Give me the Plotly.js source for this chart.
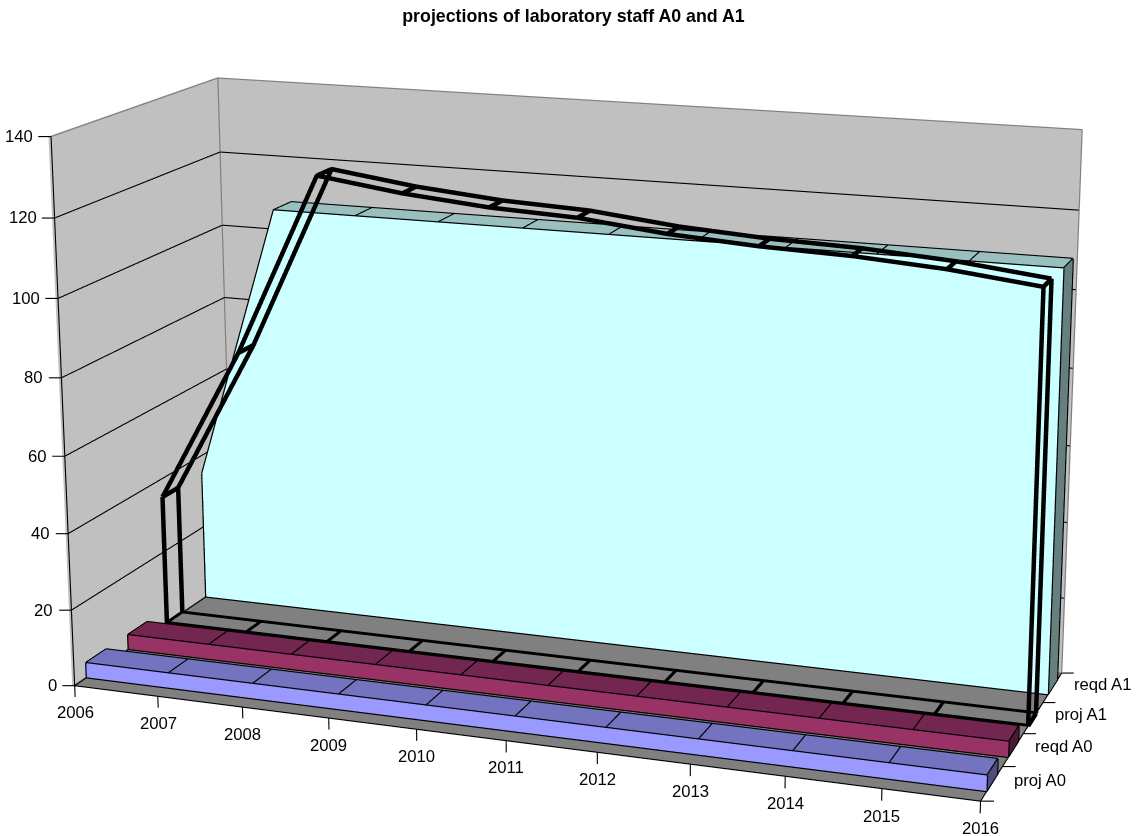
<!DOCTYPE html>
<html><head><meta charset="utf-8">
<script src="https://cdn.plot.ly/plotly-3.0.1.min.js"></script>
<style>
html,body{margin:0;padding:0;background:#fff;overflow:hidden;width:1138px;height:836px}
#frame{position:relative;width:1138px;height:836px;overflow:hidden}
#chart{position:absolute;left:0;top:-975px;width:1200px;height:2709px}
</style></head>
<body><div id="frame"><div id="chart"></div></div>
<script>
// Staff projections per year and series
var years = [2006,2007,2008,2009,2010,2011,2012,2013,2014,2015,2016];
var seriesNames = ['proj A0','reqd A0','proj A1','reqd A1'];
var projA0 = [4,4,4,4,4,4,4,4,4,4,4];
var reqdA0 = [4,4,4,4,4,4,4,4,4,4,4];
var projA1 = [35,76,124,121,119,118,115.6,114.2,113.5,112,109.5];
var reqdA1 = [35,109,109,109,109,109,109,109,109,109,109];
var valueTicks = [0,20,40,60,80,100,120,140];

var FONT = 'Arial, "Liberation Sans", sans-serif';
var x0 = years[0], x1 = years[years.length-1];
var zTop = valueTicks[valueTicks.length-1];
var depth = seriesNames.length;

function LineSet(color,width){
  this.t = {type:'scatter3d',mode:'lines',x:[],y:[],z:[],line:{color:color,width:width},
            hoverinfo:'skip',showlegend:false};
}
LineSet.prototype.add = function(pts){
  var t = this.t;
  pts.forEach(function(p){t.x.push(p[0]);t.y.push(p[1]);t.z.push(p[2]);});
  t.x.push(null);t.y.push(null);t.z.push(null);
};

function Solid(){
  this.t = {type:'mesh3d',x:[],y:[],z:[],i:[],j:[],k:[],facecolor:[],flatshading:true,
            lighting:{ambient:1,diffuse:0,specular:0,roughness:1,fresnel:0},
            hoverinfo:'skip',showscale:false};
}
Solid.prototype.quad = function(a,b,c,d,color){
  var t = this.t, n = t.x.length;
  [a,b,c,d].forEach(function(p){t.x.push(p[0]);t.y.push(p[1]);t.z.push(p[2]);});
  t.i.push(n,n);t.j.push(n+1,n+2);t.k.push(n+2,n+3);
  t.facecolor.push(color,color);
};

var traces = [];

// Walls and floor sit a hair behind the lines drawn on them
var walls = new Solid();
var e = 0.03, ez = 0.15;
walls.quad([x0-e,0,-ez],[x1,0,-ez],[x1,depth+e,-ez],[x0-e,depth+e,-ez],'#808080');
walls.quad([x0-e,depth+e,-ez],[x1,depth+e,-ez],[x1,depth+e,zTop],[x0-e,depth+e,zTop],'#c0c0c0');
walls.quad([x0-e,0,-ez],[x0-e,depth+e,-ez],[x0-e,depth+e,zTop],[x0-e,0,zTop],'#c0c0c0');
traces.push(walls.t);

// Filled ribbons
var thin = new LineSet('#000000',2.4);
function ribbon(values,slot,inset,front,top,side){
  var s = new Solid(), yf = slot+inset, yb = slot+0.75, last = values.length-1;
  for(var n=0;n<last;n++){
    s.quad([years[n],yf,0],[years[n+1],yf,0],[years[n+1],yf,values[n+1]],[years[n],yf,values[n]],front);
    s.quad([years[n],yf,values[n]],[years[n+1],yf,values[n+1]],[years[n+1],yb,values[n+1]],[years[n],yb,values[n]],top);
  }
  s.quad([x1,yf,0],[x1,yb,0],[x1,yb,values[last]],[x1,yf,values[last]],side);
  s.quad([x0,yf,0],[x0,yb,0],[x0,yb,values[0]],[x0,yf,values[0]],side);
  traces.push(s.t);
  var off = 0.012, zo = 0.12, ft=[], bt=[];
  values.forEach(function(v,n){
    ft.push([years[n],yf-off,v+zo]);
    bt.push([years[n],yb,v+zo]);
    thin.add([[years[n],yf-off,v+zo],[years[n],yb,v+zo]]);
  });
  thin.add(ft);thin.add(bt);
  thin.add([[x0,yf-off,0],[x1,yf-off,0]]);
  thin.add([[x0,yf-off,0],[x0,yf-off,values[0]]]);
  thin.add([[x1+0.005,yf-off,0],[x1+0.005,yf-off,values[last]]]);
  thin.add([[x1+0.005,yb,0],[x1+0.005,yb,values[last]]]);
  thin.add([[x1+0.005,yf,zo],[x1+0.005,yb,zo]]);
}
ribbon(projA0,0,0.28,'#9999ff','#7373bf','#4d4d80');
ribbon(reqdA0,1,0.28,'#993366','#732650','#4d1a33');
ribbon(reqdA1,3,0.27,'#ccffff','#99bfbf','#668080');

// Unfilled series: heavy outline only
var heavy = new LineSet('#000000',9);
(function(values,slot){
  var yf = slot+0.24, yb = slot+0.64, ft=[], bt=[], last = values.length-1;
  values.forEach(function(v,n){
    ft.push([years[n],yf,v]);
    bt.push([years[n],yb,v]);
    heavy.add([[years[n],yf,v],[years[n],yb,v]]);
    heavy.add([[years[n],yf,0],[years[n],yb,0]]);
  });
  heavy.add(ft);heavy.add(bt);
  heavy.add([[x0,yf,0],[x1,yf,0]]);
  heavy.add([[x0,yb,0],[x1,yb,0]]);
  [x0,x1].forEach(function(x,n){
    var v = values[n?last:0];
    heavy.add([[x,yf,0],[x,yf,v]]);
    heavy.add([[x,yb,0],[x,yb,v]]);
  });
})(projA1,2);

// Gridlines, wall edges, axis lines and ticks
var grid = new LineSet('#000000',2.2);
var wallEdge = new LineSet('#808080',2.4);
var axisLine = new LineSet('#000000',2.2);
valueTicks.forEach(function(v){
  if(v>0 && v<zTop) grid.add([[x0,0,v],[x0,depth,v],[x1,depth,v]]);
  axisLine.add([[x0-0.125,-0.045,v],[x0,0,v]]);
});
wallEdge.add([[x0,0,zTop],[x0,depth,zTop],[x1,depth,zTop],[x1,depth,0]]);
wallEdge.add([[x0,depth,0],[x0,depth,zTop]]);
wallEdge.add([[x0,depth,0],[x1,depth,0]]);
axisLine.add([[x0,0,zTop],[x0,0,0],[x1,0,0],[x1,depth,0]]);
axisLine.add([[x0,0,0],[x0,depth,0]]);
years.forEach(function(y){axisLine.add([[y,0,0],[y,0,-3]]);});
for(var d=0;d<=depth;d++){axisLine.add([[x1,d,0],[x1+0.125,d+0.045,0]]);}

traces.push(grid.t,wallEdge.t,axisLine.t,thin.t,heavy.t);

// Tick labels
var labelFont = {family:FONT,size:16.7,color:'#000000'};
var notes = [];
valueTicks.forEach(function(v){
  notes.push({x:x0,y:0,z:v,text:String(v),showarrow:false,xanchor:'right',yanchor:'middle',
              xshift:-16,font:labelFont});
});
years.forEach(function(y){
  notes.push({x:y,y:0,z:-3,text:String(y),showarrow:false,xanchor:'center',yanchor:'top',
              yshift:-4,font:labelFont});
});
seriesNames.forEach(function(name,n){
  notes.push({x:x1,y:n+0.5,z:0,text:name,showarrow:false,xanchor:'left',yanchor:'middle',
              xshift:20,yshift:3,font:labelFont});
});

var layout = {
  width:1200,height:2709,
  margin:{l:0,r:0,t:0,b:0,pad:0},
  paper_bgcolor:'#ffffff',
  showlegend:false,
  title:{text:'<b>projections of laboratory staff A0 and A1</b>',
         font:{family:FONT,size:17.8,color:'#000000'},
         xref:'paper',yref:'paper',x:573.5/1200,y:1-(975+16)/2709,xanchor:'center',yanchor:'middle'},
  scene:{
    xaxis:{visible:false,range:[2005.5,2016.5]},
    yaxis:{visible:false,range:[-0.5,4.5]},
    zaxis:{visible:false,range:[-14,154]},
    aspectmode:'manual',
    aspectratio:{x:1.098,y:0.492,z:0.722},
    camera:{eye:{x:1.1427,y:-3.156,z:0.911},center:{x:0.0244,y:0.026,z:0.0316},up:{x:0,y:0,z:1}},
    annotations:notes
  }
};
Plotly.newPlot('chart',traces,layout,{displayModeBar:false});
</script>
</body></html>
